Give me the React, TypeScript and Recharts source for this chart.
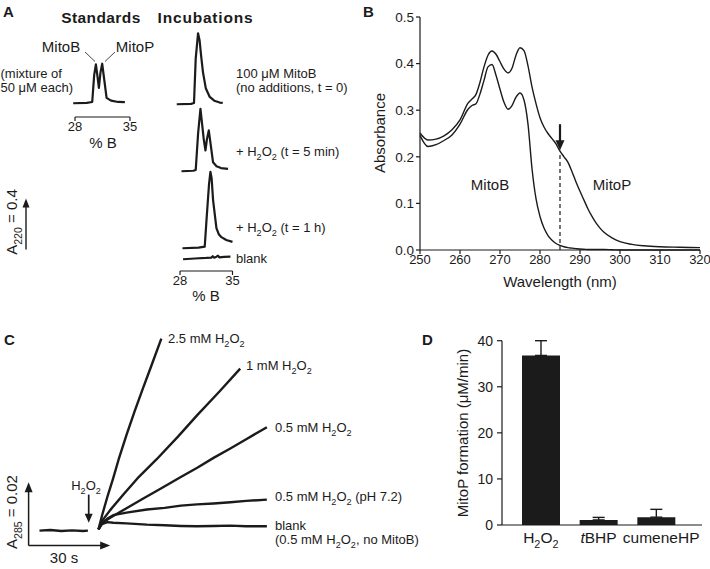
import React from 'react';
import { LineChart, Line, XAxis, YAxis, ReferenceLine, BarChart, Bar, ErrorBar } from 'recharts';

const FONT = '"Liberation Sans", Arial, Helvetica, sans-serif';
const INK = '#1b1b1b';

// ---------- Panel A: HPLC traces, [%B, A220] ----------
const standardsMix: [number, number][] = [[27.78,0],[29.5,0.003],[30.2,0.01],[30.45,0.22],[30.67,0.305],[30.85,0.22],[31.05,0.12],[31.25,0.24],[31.47,0.31],[31.7,0.2],[32.03,0.042],[32.6,0.02],[33.5,0.01],[34.36,0.008]];
const incubationT0: [number, number][] = [[27.6,0],[29.5,0.003],[29.9,0.01],[30.13,0.36],[30.44,0.557],[30.65,0.5],[30.85,0.38],[31.1,0.25],[31.47,0.126],[32.0,0.057],[32.6,0.028],[33.33,0.013],[33.73,0.01]];
const incubation5min: [number, number][] = [[28.23,0],[29.8,0.004],[30.13,0.01],[30.45,0.3],[30.76,0.49],[31.0,0.36],[31.2,0.25],[31.43,0.163],[31.62,0.25],[31.87,0.32],[32.1,0.22],[32.44,0.07],[32.9,0.04],[33.5,0.025],[34.44,0.019]];
const incubation1h: [number, number][] = [[28.36,0],[30.5,0.005],[31.33,0.012],[31.6,0.25],[31.9,0.5],[32.09,0.6],[32.25,0.55],[32.44,0.38],[32.89,0.157],[33.2,0.11],[33.56,0.087],[34.2,0.065],[35.03,0.05]];
const blankRun: [number, number][] = [[28.44,0],[30,0.006],[31.5,0.01],[32.2,0.013],[32.4,0.024],[32.6,0.012],[32.9,0.02],[33.1,0.028],[33.3,0.014],[33.9,0.018],[34.76,0.02]];
const percentBTicks = [28, 35];
const a220ScaleBar = 0.4;

// ---------- Panel B: absorbance spectra ----------
const wavelengths = [250,252,254,256,258,260,262,263,264,265,266,267,268,269,270,271,272,273,274,275,276,277,278,279,280,281,282,283,284,285,286,287,288,289,290,291,292,293,294,295,296,298,300,303,306,310,315,320];
const mitoPAbs = [0.251,0.236,0.238,0.245,0.258,0.279,0.315,0.324,0.334,0.36,0.393,0.418,0.427,0.42,0.404,0.388,0.38,0.39,0.418,0.434,0.428,0.395,0.35,0.314,0.284,0.264,0.25,0.239,0.228,0.212,0.2,0.188,0.168,0.146,0.126,0.107,0.088,0.072,0.058,0.047,0.038,0.026,0.018,0.012,0.009,0.007,0.006,0.005];
const mitoBAbs = [0.246,0.222,0.226,0.235,0.247,0.27,0.302,0.31,0.314,0.335,0.364,0.393,0.398,0.375,0.345,0.317,0.302,0.31,0.328,0.337,0.322,0.27,0.175,0.11,0.072,0.047,0.031,0.021,0.014,0.01,0.007,0.005,0.004,0.003,0.002,0.0015,0.001,0.001,0.001,0.001,0.001,0.0005,0,0,0,0,0,0];
const wavelengthTicks = [250,260,270,280,290,300,310,320];
const absTicks = [0,0.1,0.2,0.3,0.4,0.5];
const markedWavelength = 285;

// ---------- Panel C: A285 kinetics, [s, A285] ----------
const preInjection: [number, number][] = [[4,0.0047],[8,0.0049],[12,0.0046],[16,0.0048],[20,0.0046],[21.8,0.0047]];
const h2o2_2500: [number, number][] = [[25.7,0.0051],[27,0.0095],[29,0.0155],[31,0.021],[33.1,0.0272],[36,0.035],[39,0.0425],[42,0.0496],[45,0.0565],[48.8,0.0654]];
const h2o2_1000: [number, number][] = [[25.7,0.0051],[27,0.0078],[30,0.0112],[35,0.0163],[40,0.0212],[47,0.0272],[55,0.0345],[62,0.0412],[70,0.0485],[77.8,0.0559]];
const h2o2_500: [number, number][] = [[25.7,0.0051],[26.5,0.0068],[30,0.0088],[36,0.0118],[42,0.0148],[48,0.0177],[55.8,0.0216],[62,0.0246],[68,0.0277],[74,0.0306],[80,0.0336],[87.6,0.0374]];
const h2o2_500_pH72: [number, number][] = [[25.7,0.0051],[27,0.0072],[29,0.0085],[31.1,0.0096],[36,0.0104],[43.5,0.0114],[50,0.0119],[56,0.0126],[61.9,0.013],[68,0.0133],[74.2,0.0137],[80,0.0141],[87.6,0.0145]];
const blankNoMitoB: [number, number][] = [[25.7,0.0051],[27,0.0068],[29,0.0074],[31.1,0.0072],[36,0.007],[43.5,0.0066],[50,0.0064],[56,0.0062],[61.9,0.0061],[68,0.0062],[74.2,0.0063],[80,0.0061],[87.6,0.0061]];
const timeScaleBar = 30;
const absScaleBar = 0.02;
const injectionTime = 22.1;

// ---------- Panel D: MitoP formation ----------
const oxidants = ['H2O2', 'tBHP', 'cumeneHP'];
const mitoPRate = [36.8, 1.1, 1.7];
const mitoPRateSem = [3.2, 0.55, 1.7];
const rateTicks = [0,10,20,30,40];

// ---------- helpers ----------
type Part = { t: string; sub?: boolean; it?: boolean };
function parse(s: string): Part[] {
  const out: Part[] = [];
  let buf = '';
  let i = 0;
  while (i < s.length) {
    const c = s[i];
    if (c === '_' && s[i + 1] === '{') {
      if (buf) { out.push({ t: buf }); buf = ''; }
      const j = s.indexOf('}', i);
      out.push({ t: s.slice(i + 2, j), sub: true });
      i = j + 1;
    } else if (c === '~') {
      if (buf) { out.push({ t: buf }); buf = ''; }
      const j = s.indexOf('~', i + 1);
      out.push({ t: s.slice(i + 1, j), it: true });
      i = j + 1;
    } else { buf += c; i++; }
  }
  if (buf) out.push({ t: buf });
  return out;
}

function Rich({ x, y, fs = 13, s, anchor = 'start', weight, rotate, ls }: any) {
  const parts = parse(s);
  let cur = false;
  const spans = parts.map((p, i) => {
    const sb = !!p.sub;
    const dy = sb === cur ? 0 : sb ? fs * 0.3 : -fs * 0.3;
    cur = sb;
    return (
      <tspan key={i} dy={dy || undefined} fontSize={sb ? fs * 0.7 : fs} fontStyle={p.it ? 'italic' : undefined}>
        {p.t}
      </tspan>
    );
  });
  const transform = rotate ? `rotate(${rotate} ${x} ${y})` : undefined;
  return (
    <text x={x} y={y} fontSize={fs} fontFamily={FONT} fill={INK} textAnchor={anchor} fontWeight={weight} transform={transform} letterSpacing={ls}>
      {spans}
    </text>
  );
}

const ArrowShape = (props: any) => {
  const { x1, y1, x2, y2 } = props;
  const sw = props.sw || 1.5;
  const head = props.head || 9;
  const half = props.half || 4;
  const dx = x2 - x1, dy = y2 - y1;
  const len = Math.sqrt(dx * dx + dy * dy) || 1;
  const ux = dx / len, uy = dy / len;
  const bx = x2 - ux * head, by = y2 - uy * head;
  const px = -uy, py = ux;
  return (
    <g>
      <line x1={x1} y1={y1} x2={bx + ux} y2={by + uy} stroke={INK} strokeWidth={sw} />
      <polygon points={`${x2},${y2} ${bx + px * half},${by + py * half} ${bx - px * half},${by - py * half}`} fill={INK} />
    </g>
  );
};

const A_PX = 127.5; // px per A220 unit
const toXY = (pts: [number, number][]) => pts.map(([x, y]) => ({ x, y }));
const NOM = { top: 0, right: 0, bottom: 0, left: 0 };

function Chromatogram({ pts, x28, pxPerB, baseline }: any) {
  const dom = [27.5, 35.5];
  const yMin = -0.03, yMax = 0.7;
  const w = (dom[1] - dom[0]) * pxPerB;
  const h = (yMax - yMin) * A_PX;
  const left = x28 + (dom[0] - 28) * pxPerB;
  return (
    <div style={{ position: 'absolute', left, top: baseline - yMax * A_PX }}>
      <LineChart width={w} height={h} data={toXY(pts)} margin={NOM}>
        <XAxis type="number" dataKey="x" domain={dom} hide />
        <YAxis type="number" domain={[yMin, yMax]} hide />
        <Line dataKey="y" type="linear" stroke={INK} strokeWidth={2.2} strokeLinejoin="round" dot={false} activeDot={false} isAnimationActive={false} />
      </LineChart>
    </div>
  );
}

function PercentBAxis({ x28, pxPerB, y }: any) {
  const w = 7 * pxPerB;
  return (
    <div style={{ position: 'absolute', left: x28 - 12, top: y - 2 }}>
      <LineChart width={w + 24} height={26} data={percentBTicks.map((x) => ({ x }))} margin={{ top: 0, right: 12, bottom: 0, left: 12 }}>
        <XAxis type="number" dataKey="x" domain={[28, 35]} ticks={percentBTicks} interval={0} height={24} tickSize={4} tickMargin={1}
          axisLine={{ stroke: INK, strokeWidth: 1.2 }} tickLine={{ stroke: INK, strokeWidth: 1.2 }}
          tick={{ fontSize: 13, fill: INK, fontFamily: FONT }} />
        <YAxis hide domain={[0, 1]} />
      </LineChart>
    </div>
  );
}

function ScaleArrowA() {
  const h = 0.45 * A_PX;
  const pts = [{ x: 0, y: 0 }, { x: 0, y: a220ScaleBar }];
  return (
    <div style={{ position: 'absolute', left: 16, top: 249 - h }}>
      <LineChart width={20} height={h} data={pts} margin={NOM}>
        <XAxis type="number" dataKey="x" domain={[-1, 1]} hide />
        <YAxis type="number" domain={[0, 0.45]} hide />
        <Line dataKey="y" stroke="none" dot={false} activeDot={false} isAnimationActive={false} />
        <ReferenceLine segment={[{ x: 0, y: 0 }, { x: 0, y: a220ScaleBar }]} shape={(p: any) => <ArrowShape {...p} sw={1.4} head={9} half={3.5} />} />
      </LineChart>
    </div>
  );
}

const OxidantTick = (props: any) => {
  const { x, y, payload } = props;
  const label: Record<string, string> = { H2O2: 'H_{2}O_{2}', tBHP: '~t~BHP', cumeneHP: 'cumeneHP' };
  const shift: Record<string, number> = { cumeneHP: 5 };
  return <Rich x={x + (shift[payload.value] || 0)} y={y + 18} fs={15.5} s={label[payload.value] || payload.value} anchor="middle" />;
};

export default function App() {
  const specData = wavelengths.map((w, i) => ({ w, p: mitoPAbs[i], b: mitoBAbs[i] }));
  const rateData = oxidants.map((name, i) => ({ name, rate: mitoPRate[i], err: [0, mitoPRateSem[i]] }));
  const kin = (pts: [number, number][]) => pts.map(([t, a]) => ({ t, a }));
  const kinTraces = [preInjection, h2o2_2500, h2o2_1000, h2o2_500, h2o2_500_pH72, blankNoMitoB];

  const incX28 = 180, incPx = 7.5;
  const stdX28 = 75, stdPx = 7.857;

  // Panel C geometry: 2.72 px / s, 3165 px / A285
  const cDomX = [-5, 95], cDomY = [-0.005, 0.07];
  const cW = (cDomX[1] - cDomX[0]) * 2.72, cH = (cDomY[1] - cDomY[0]) * 3165;

  return (
    <div style={{ position: 'absolute', left: 0, top: 0, width: 710, height: 569, background: '#fff', fontFamily: FONT, overflow: 'hidden' }}>
      <style>{`.recharts-surface{overflow:visible}`}</style>

      {/* Panel A */}
      <Chromatogram pts={standardsMix} x28={stdX28} pxPerB={stdPx} baseline={103} />
      <PercentBAxis x28={stdX28} pxPerB={stdPx} y={117} />
      <Chromatogram pts={incubationT0} x28={incX28} pxPerB={incPx} baseline={104} />
      <Chromatogram pts={incubation5min} x28={incX28} pxPerB={incPx} baseline={171} />
      <Chromatogram pts={incubation1h} x28={incX28} pxPerB={incPx} baseline={248.3} />
      <Chromatogram pts={blankRun} x28={incX28} pxPerB={incPx} baseline={259.5} />
      <PercentBAxis x28={incX28} pxPerB={incPx} y={271} />
      <ScaleArrowA />

      {/* Panel B */}
      <div style={{ position: 'absolute', left: 360, top: 0 }}>
        <LineChart width={350} height={290} data={specData} margin={{ top: 17, right: 10, bottom: 16, left: 0 }}>
          <XAxis type="number" dataKey="w" domain={[250, 320]} ticks={wavelengthTicks} interval={0} height={24} tickSize={4} tickMargin={1}
            axisLine={{ stroke: INK, strokeWidth: 1.2 }} tickLine={{ stroke: INK, strokeWidth: 1.2 }} tick={{ fontSize: 13, fill: INK, fontFamily: FONT }} />
          <YAxis type="number" domain={[0, 0.5]} ticks={absTicks} interval={0} width={60} tickSize={4} tickMargin={2}
            tickFormatter={(v: number) => v.toFixed(1)}
            axisLine={{ stroke: INK, strokeWidth: 1.2 }} tickLine={{ stroke: INK, strokeWidth: 1.2 }} tick={{ fontSize: 13.5, fill: INK, fontFamily: FONT }} />
          <Line dataKey="p" type="monotone" stroke={INK} strokeWidth={1.4} dot={false} activeDot={false} isAnimationActive={false} />
          <Line dataKey="b" type="monotone" stroke={INK} strokeWidth={1.4} dot={false} activeDot={false} isAnimationActive={false} />
          <ReferenceLine segment={[{ x: markedWavelength, y: 0 }, { x: markedWavelength, y: 0.211 }]} stroke={INK} strokeWidth={1.2} strokeDasharray="4 3" />
          <ReferenceLine segment={[{ x: markedWavelength, y: 0.27 }, { x: markedWavelength, y: 0.214 }]} shape={(p: any) => <ArrowShape {...p} sw={2.2} head={10} half={4.5} />} />
        </LineChart>
      </div>

      {/* Panel C */}
      <div style={{ position: 'absolute', left: 28.3 + cDomX[0] * 2.72, top: 546 - cDomY[1] * 3165 }}>
        <LineChart width={cW} height={cH} margin={NOM}>
          <XAxis type="number" dataKey="t" domain={cDomX} hide allowDuplicatedCategory={false} />
          <YAxis type="number" domain={cDomY} hide />
          {kinTraces.map((tr, i) => (
            <Line key={i} data={kin(tr)} dataKey="a" type="linear" stroke={INK} strokeWidth={2.4} strokeLinejoin="round" dot={false} activeDot={false} isAnimationActive={false} />
          ))}
          <ReferenceLine segment={[{ x: 0, y: 0 }, { x: timeScaleBar, y: 0 }]} shape={(p: any) => <ArrowShape {...p} sw={1.5} head={10} half={4} />} />
          <ReferenceLine segment={[{ x: 0, y: 0 }, { x: 0, y: absScaleBar }]} shape={(p: any) => <ArrowShape {...p} sw={1.5} head={10} half={4} />} />
          <ReferenceLine segment={[{ x: injectionTime, y: 0.0161 }, { x: injectionTime, y: 0.0072 }]} shape={(p: any) => <ArrowShape {...p} sw={1.7} head={9} half={4} />} />
        </LineChart>
      </div>

      {/* Panel D */}
      <div style={{ position: 'absolute', left: 420, top: 330 }}>
        <BarChart width={290} height={225} data={rateData} margin={{ top: 10.7, right: 8, bottom: 0, left: 0 }}>
          <XAxis dataKey="name" type="category" height={30} tickLine={false} tickSize={0} tickMargin={0} padding={{ left: 10, right: 17 }}
            axisLine={{ stroke: INK, strokeWidth: 1.2 }} tick={<OxidantTick />} interval={0} />
          <YAxis type="number" domain={[0, 40]} ticks={rateTicks} interval={0} width={82} tickSize={5} tickMargin={4}
            axisLine={{ stroke: INK, strokeWidth: 1.2 }} tickLine={{ stroke: INK, strokeWidth: 1.2 }} tick={{ fontSize: 14, fill: INK, fontFamily: FONT }} />
          <Bar dataKey="rate" fill={INK} barSize={38} isAnimationActive={false}>
            <ErrorBar dataKey="err" width={6} stroke={INK} strokeWidth={1.4} direction="y" />
          </Bar>
        </BarChart>
      </div>

      {/* Text annotations */}
      <svg width={710} height={569} style={{ position: 'absolute', left: 0, top: 0, pointerEvents: 'none' }}>
        {/* Panel A */}
        <Rich x={3} y={17} fs={15} s="A" weight="bold" />
        <Rich x={101} y={22.5} fs={15.5} s="Standards" weight="bold" anchor="middle" ls={0.4} />
        <Rich x={205.5} y={22.5} fs={15.5} s="Incubations" weight="bold" anchor="middle" ls={0.8} />
        <Rich x={61} y={51.5} fs={15} s="MitoB" anchor="middle" />
        <Rich x={135} y={51.5} fs={15} s="MitoP" anchor="middle" />
        <line x1={85} y1={52} x2={95} y2={61.5} stroke={INK} strokeWidth={0.8} />
        <line x1={115} y1={52} x2={105} y2={61.5} stroke={INK} strokeWidth={0.8} />
        <Rich x={0.5} y={78} fs={13} s="(mixture of" />
        <Rich x={0.5} y={92} fs={13} s="50 μM each)" />
        <Rich x={236} y={78} fs={13} s="100 μM MitoB" />
        <Rich x={236} y={92} fs={13} s="(no additions, t = 0)" />
        <Rich x={236} y={156} fs={13} s="+ H_{2}O_{2} (t = 5 min)" />
        <Rich x={236} y={232} fs={13} s="+ H_{2}O_{2} (t = 1 h)" />
        <Rich x={236} y={263} fs={13} s="blank" />
        <Rich x={103} y={148} fs={15} s="% B" anchor="middle" />
        <Rich x={206} y={301} fs={15} s="% B" anchor="middle" />
        <Rich x={17} y={222} fs={15} s="A_{220} = 0.4" anchor="middle" rotate={-90} />

        {/* Panel B */}
        <Rich x={363} y={17} fs={15} s="B" weight="bold" />
        <Rich x={385} y={133} fs={15} s="Absorbance" anchor="middle" rotate={-90} />
        <Rich x={560} y={287} fs={15} s="Wavelength (nm)" anchor="middle" />
        <Rich x={490} y={190} fs={15} s="MitoB" anchor="middle" />
        <Rich x={612} y={190} fs={15} s="MitoP" anchor="middle" />

        {/* Panel C */}
        <Rich x={4} y={345} fs={15} s="C" weight="bold" />
        <Rich x={168} y={343} fs={13} s="2.5 mM H_{2}O_{2}" />
        <Rich x={246} y={370} fs={13} s="1 mM H_{2}O_{2}" />
        <Rich x={275} y={432} fs={13} s="0.5 mM H_{2}O_{2}" />
        <Rich x={275} y={501} fs={13} s="0.5 mM H_{2}O_{2} (pH 7.2)" />
        <Rich x={275} y={530} fs={13} s="blank" />
        <Rich x={275} y={544} fs={13} s="(0.5 mM H_{2}O_{2}, no MitoB)" />
        <Rich x={86} y={490} fs={13} s="H_{2}O_{2}" anchor="middle" />
        <Rich x={64} y={563} fs={15} s="30 s" anchor="middle" />
        <Rich x={17} y={512} fs={15} s="A_{285} = 0.02" anchor="middle" rotate={-90} />

        {/* Panel D */}
        <Rich x={422} y={345} fs={15} s="D" weight="bold" />
        <Rich x={468} y={433} fs={15} s="MitoP formation (μM/min)" anchor="middle" rotate={-90} />
      </svg>
    </div>
  );
}
